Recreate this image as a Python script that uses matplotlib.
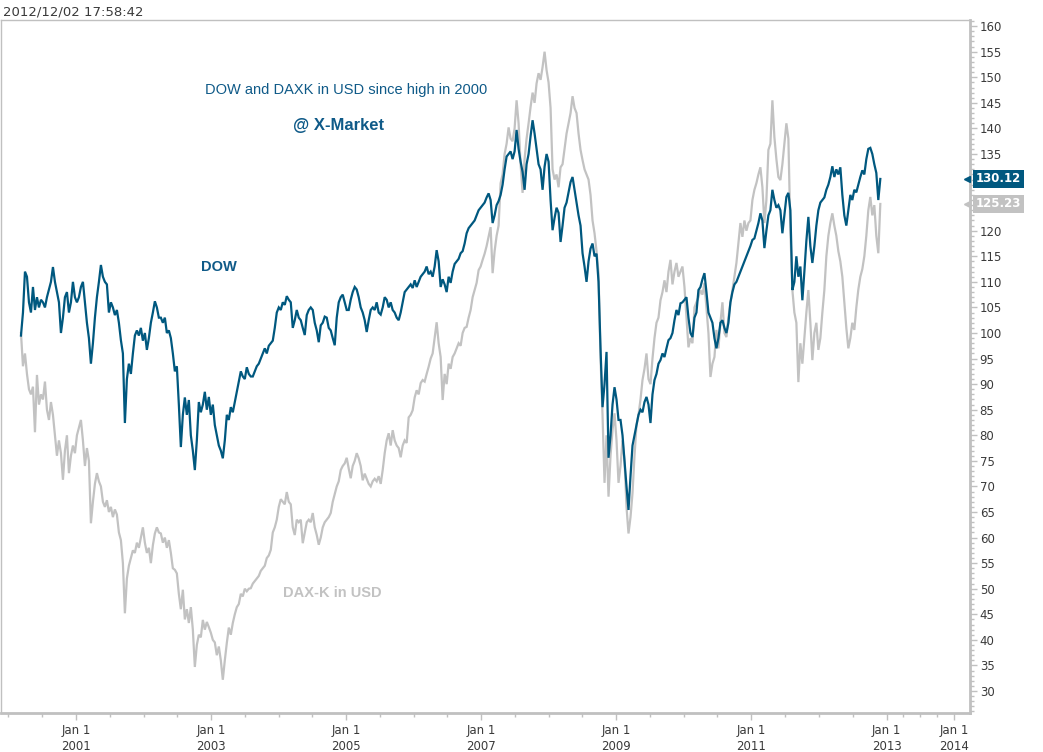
import matplotlib
matplotlib.use("Agg")
import matplotlib.pyplot as plt
import matplotlib.transforms as mtransforms
import pandas as pd

# ---------------- data (index, 100 = high in 2000) ----------------
start_date = "2000-03-09"
end_date = "2012-11-28"

dow_values = [
    99.5, 104, 112, 111, 106, 104, 109, 104.5, 107, 105,
    106.5, 106, 105, 107, 108.5, 110, 112.9, 110, 108, 106,
    100, 103, 107, 108, 104, 106, 110, 107, 106, 107,
    109, 110, 106, 102, 99, 94, 98, 103, 107, 110,
    113.3, 111, 110, 109.5, 104, 106, 105, 103.5, 104.5, 102,
    98.6, 96, 82.4, 91, 94, 92, 96, 99.5, 100.5, 99.5,
    101, 98.5, 100, 96.7, 99, 102, 104, 106.2, 105, 103,
    103, 102, 103, 100, 100.5, 99, 96, 92.5, 93.5, 86,
    77.7, 84, 87.4, 84, 86.9, 80, 77, 73.2, 79, 86.5,
    84.5, 86, 88.5, 85, 87.5, 84, 86, 82, 80, 78,
    77, 75.5, 79, 84, 83, 85.5, 84.5, 86.5, 88.5, 90.5,
    92.5, 91.5, 91, 93.3, 92, 91.5, 91.5, 92.5, 93.5, 94,
    95, 96, 97, 96, 97.5, 98, 98.5, 101, 104, 105,
    104.5, 106, 105.5, 107.2, 106.5, 106, 101, 102.5, 104.5, 103,
    102.5, 101, 99.6, 103.5, 104.5, 105, 104.5, 102, 100.5, 98.2,
    101.5, 102, 103.2, 103, 101, 100.5, 99, 97.6, 103, 106,
    107, 107.5, 106, 104.5, 104.5, 106.5, 108, 109, 108.5, 107,
    105, 104, 102.5, 100.2, 102.5, 104.5, 105, 104.5, 106, 104,
    103.6, 105, 107, 106.5, 105, 106, 104.5, 104, 103, 102.5,
    104, 106, 108, 108.5, 109, 109.5, 108.8, 110.3, 109, 110,
    111, 111.5, 112, 113, 111.5, 112, 111, 113, 116.2, 114,
    109, 110.5, 109.5, 108, 111, 109.8, 112, 113.5, 114, 114.5,
    115.6, 116, 117.5, 119.5, 120.5, 121, 121.5, 122, 123, 124,
    124.5, 125, 125.5, 126.5, 127.3, 126, 121.5, 123, 125, 125.8,
    127, 129, 132, 134.5, 135, 135.5, 134, 135.5, 139.7, 136,
    133.5, 131.5, 128, 133, 135, 138.5, 141.6, 139, 136, 133,
    132, 128, 132.5, 135, 133.5, 126, 120.1, 122.5, 124.5, 123.5,
    117.8, 121, 124.5, 125.5, 127.5, 129.5, 130.5, 128, 125.5, 123,
    121, 115.6, 113, 110, 114, 116.5, 117.5, 115, 115.5, 110,
    97, 85.5, 90, 96.3, 75.6, 80, 86, 89.4, 87, 83,
    83, 80, 75, 70, 65.4, 72, 78, 80, 82, 84,
    85, 84.5, 86.5, 87.5, 86, 82.4, 88, 90.8, 92, 94,
    94.7, 96, 95.3, 97, 98.6, 99, 100, 102.5, 104.5, 103.5,
    105.8, 106, 106.5, 107, 103, 100, 99.2, 103, 104, 108.4,
    109, 110.5, 111.7, 108, 104, 103, 102, 99, 97, 99,
    102, 102.5, 101, 100, 102, 106, 108, 109.5, 110, 111,
    112, 113, 114, 115, 116, 117, 118.2, 118.5, 120, 121.5,
    123.4, 122, 116.6, 120, 123, 124, 128, 126, 124.5, 125,
    124, 119.5, 123, 126.6, 127.4, 124, 108.4, 110, 115, 111,
    113, 106.4, 112, 118, 122.7, 117, 113.7, 117, 121, 124,
    125.5, 126, 126.5, 128, 129, 130.5, 132.6, 130.5, 132, 131,
    132.4, 127, 123, 121, 124, 127, 126, 128, 127.5, 129,
    130.5, 131.8, 131, 134, 136, 136.2, 135, 133, 131.3, 126, 130.12,
]

dax_values = [
    100, 93.5, 96, 92, 89, 88, 89.5, 80.6, 91.8, 86,
    88, 87, 90.5, 85, 83, 86.5, 84, 80, 76, 79,
    76.5, 71.3, 77, 80, 72.6, 76, 78, 76.5, 80, 81.5,
    83, 79, 74, 77.5, 75, 62.8, 67, 70.5, 72.6, 71,
    70, 67, 66, 67.3, 65, 66, 64, 65.5, 64.5, 61,
    59.5, 55, 45.2, 52, 54.5, 56, 57.5, 57, 59, 58,
    60, 62, 59, 57, 58, 55, 58.5, 60.8, 62, 61,
    60.8, 59, 60, 58, 59.5, 57, 54, 53.7, 53, 49,
    46, 49.8, 44, 46, 43.3, 46.4, 42, 34.7, 39, 41,
    40.5, 43.9, 42, 43.5, 42.5, 41.4, 40, 39.5, 37, 38.7,
    36, 32.2, 36, 39.4, 42.4, 41, 43.3, 45, 46.4, 47,
    49, 48.5, 50, 49.5, 50, 50.1, 51, 51.5, 52, 52.5,
    53.5, 54, 54.5, 56, 56.5, 57.6, 61, 62, 63.5, 66,
    67.5, 67, 66.5, 68.9, 67, 66.5, 62, 60.5, 63.5, 63,
    63.5, 58.9, 61, 63, 63.5, 63, 64.8, 62, 60.5, 58.6,
    60, 62, 63, 63.5, 64, 64.8, 67, 68.5, 70, 71,
    73.2, 74, 74.5, 75.6, 73.5, 71.6, 74, 75, 76.5, 75.5,
    74, 71.2, 72.5, 71.5, 70.5, 70, 71, 71.5, 71, 72,
    70.5, 73.2, 76.5, 79, 80.4, 78, 81, 79, 78, 77.5,
    75.7, 78, 79, 78.5, 83.5, 84, 84.9, 87.4, 88.8, 88,
    90.2, 90.8, 90.5, 92, 93.4, 95, 96, 99, 102.1, 98,
    95.3, 86.9, 92, 90, 94, 93, 95.3, 96, 97, 98,
    97.5, 100, 101, 101.2, 103, 104.5, 107, 108.4, 109.8, 112.3,
    113, 114.3, 115.5, 117, 118.8, 120.7, 111.7, 116, 119, 121,
    129.3, 131, 135, 137, 140.2, 138, 137.5, 140, 145.5, 141,
    133, 127.4, 134, 138, 141, 144.2, 147, 145, 148.8, 150.8,
    149.5, 152, 155, 151.4, 149, 144, 132, 130, 131, 128.5,
    132.4, 133, 136, 139, 141, 143, 146.3, 144, 143, 139,
    135.8, 133.8, 132, 131, 130, 127, 122, 119.5, 116, 111.7,
    95, 84, 70.7, 80, 68, 76, 81, 84.3, 79, 70.7,
    74, 79, 75, 66, 60.8, 64, 68.7, 76, 82, 84,
    87, 90.8, 93, 96, 91, 90, 95, 99, 102, 103,
    106.4, 108, 110.3, 108, 112, 114.3, 109.5, 112, 113.7, 111,
    112, 113, 109, 103, 97.2, 99, 98, 105, 106, 107,
    108.4, 107.5, 109.8, 105, 100, 91.4, 94, 95.3, 100.6, 97,
    102, 106, 100, 99.2, 103, 106, 108.4, 111, 113.7, 117.6,
    121.5, 118.8, 122, 120, 121.5, 122, 126, 128, 129.3, 131,
    132.4, 128.5, 121.5, 126, 135.8, 137, 145.5, 138.3, 134, 130.5,
    129.9, 133, 137.1, 141, 138, 120, 108.4, 104, 102, 90.4,
    98, 94, 99, 104, 108.4, 102, 94.7, 100, 102, 96.7,
    99, 104, 108.4, 115, 119, 121.5, 123.4, 121, 119, 116,
    114, 111, 106, 101, 97, 99, 102, 100.6, 105, 108.5,
    111, 112.5, 115, 119, 124, 126.6, 123, 125, 119, 115.6, 125.23,
]

major_years = [2001, 2003, 2005, 2007, 2009, 2011, 2013, 2014]
y_major = list(range(30, 161, 5))

title_text = "DOW and DAXK in USD since high in 2000"
brand_text = "@ X-Market"
timestamp_text = "2012/12/02 17:58:42"
dow_label = "DOW"
dax_label = "DAX-K in USD"

# ---------------- style ----------------
DOW_C = "#00587f"
DAX_C = "#c2c2c2"
FRAME_C = "#c0c0c0"
TXT_C = "#3a3a3a"
TITLE_C = "#0f5a88"

dates = pd.date_range(start_date, end_date, periods=len(dow_values))

fig = plt.figure(figsize=(10.43, 7.52), dpi=100)
W, H = 1043, 752
ax = fig.add_axes([1 / W, 1 - 713 / H, 969 / W, 693 / H])

ax.plot(dates, dax_values, color=DAX_C, lw=1.6, zorder=2, solid_joinstyle="miter")
ax.plot(dates, dow_values, color=DOW_C, lw=1.6, zorder=3, solid_joinstyle="miter")

ax.set_xlim(pd.Timestamp("1999-11-22"), pd.Timestamp("2014-03-28"))
ax.set_ylim(25.7, 161.2)

# spines
for side in ["top", "left"]:
    ax.spines[side].set_color(FRAME_C)
    ax.spines[side].set_linewidth(1.0)
for side in ["right", "bottom"]:
    ax.spines[side].set_color(FRAME_C)
    ax.spines[side].set_linewidth(2.0)

# last values (their boxes cover the tick labels underneath)
last_vals = [round(dow_values[-1]), round(dax_values[-1])]
hidden = {5 * round(v / 5) for v in last_vals}

# y axis on the right
ax.yaxis.tick_right()
ax.set_yticks(y_major)
ax.set_yticklabels(["" if v in hidden else str(v) for v in y_major])
ax.set_yticks(list(range(26, 162)), minor=True)
ax.tick_params(axis="y", which="major", length=5, width=1, color=FRAME_C,
               labelsize=8.5, labelcolor=TXT_C, pad=2, direction="out")
ax.tick_params(axis="y", which="minor", length=3, width=1, color=FRAME_C, direction="out")

# x axis
major_dates = [pd.Timestamp(f"{y}-01-01") for y in major_years]
minor_dates = []
for y in range(2000, 2013):
    for m in (1, 7):
        d = pd.Timestamp(f"{y}-{m:02d}-01")
        if d not in major_dates:
            minor_dates.append(d)
for m in (4, 7, 10):
    minor_dates.append(pd.Timestamp(f"2013-{m:02d}-01"))
ax.set_xticks(major_dates)
ax.set_xticklabels([f"Jan 1\n{y}" for y in major_years])
ax.set_xticks(minor_dates, minor=True)
ax.tick_params(axis="x", which="major", length=5, width=1, color=FRAME_C,
               labelsize=8.5, labelcolor=TXT_C, pad=3, direction="out")
ax.tick_params(axis="x", which="minor", length=3, width=1, color=FRAME_C, direction="out")
for lbl in ax.get_xticklabels():
    lbl.set_linespacing(1.25)

# texts
ax.text(0.356, 0.899, title_text, transform=ax.transAxes, ha="center", va="center",
        color=TITLE_C, fontsize=10.5, family="Liberation Sans")
ax.text(0.348, 0.848, brand_text, transform=ax.transAxes, ha="center", va="center",
        color=TITLE_C, fontsize=12, fontweight="bold", family="Liberation Sans")
ax.text(pd.Timestamp("2003-02-10"), 112.9, dow_label, ha="center", va="center",
        color=TITLE_C, fontsize=10.5, fontweight="bold", family="Liberation Sans")
ax.text(pd.Timestamp("2004-10-20"), 49.2, dax_label, ha="center", va="center",
        color=DAX_C, fontsize=10.5, fontweight="bold", family="Liberation Sans")
fig.text(3 / W, 1 - 12 / H, timestamp_text, ha="left", va="center",
         color=TXT_C, fontsize=9.5)

# last-value markers
trans = mtransforms.blended_transform_factory(ax.transAxes, ax.transData)
for vals, col in ((dow_values, DOW_C), (dax_values, DAX_C)):
    last = vals[-1]
    ax.text(1 + 6 / 969, last, f"{last:.2f}", transform=trans, ha="left", va="center",
            color="white", fontsize=8.5, fontweight="bold", clip_on=False,
            bbox=dict(boxstyle="square,pad=0.25", fc=col, ec="none"), zorder=5)
    ax.plot([1 - 3.5 / 969], [last], marker="<", markersize=5, color=col,
            transform=trans, clip_on=False, zorder=5)

fig.savefig("out.png", dpi=100)
